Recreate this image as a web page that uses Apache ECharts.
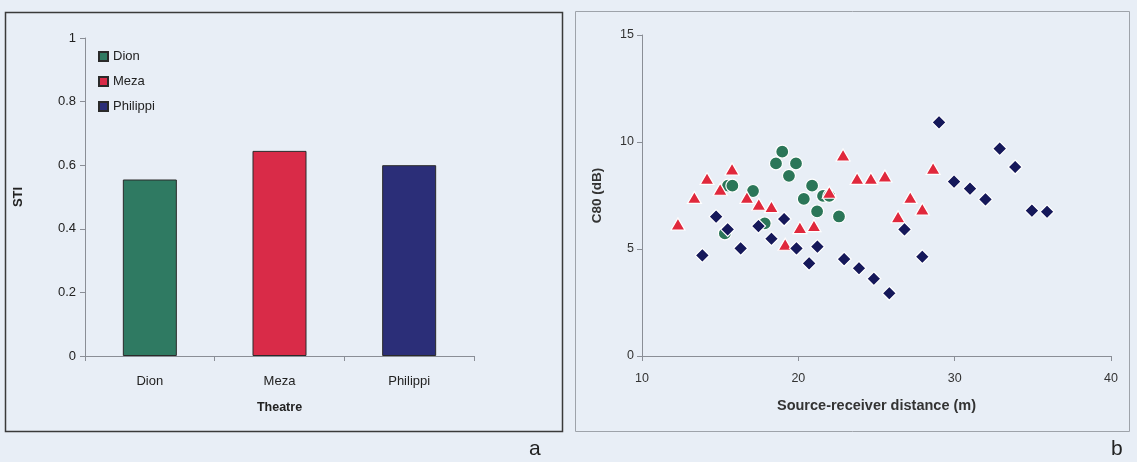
<!DOCTYPE html>
<html>
<head>
<meta charset="utf-8">
<script src="https://cdn.jsdelivr.net/npm/echarts@6/dist/echarts.min.js"></script>
<style>
html,body{margin:0;padding:0;background:#e8eef6;}
#c{width:1137px;height:462px;}
</style>
</head>
<body>
<div id="c"></div>
<script>
// ---- Data ----
const theatres = ['Dion', 'Meza', 'Philippi'];
const stiValues = [0.555, 0.645, 0.60];
const stiTicks = [0, 0.2, 0.4, 0.6, 0.8, 1];

// C80 (dB) vs source-receiver distance (m): [distance, C80]
const dionC80 = [
  [15.3, 5.73], [15.5, 7.96], [15.78, 7.96], [17.1, 7.71], [17.85, 6.2],
  [18.57, 9.0], [18.97, 9.55], [19.4, 8.42], [19.85, 9.0], [20.35, 7.34],
  [20.88, 7.96], [21.2, 6.76], [21.58, 7.48], [21.98, 7.48], [22.6, 6.52]
];
const mezaC80 = [
  [12.3, 6.17], [13.35, 7.41], [14.16, 8.3], [15.0, 7.79], [15.76, 8.74],
  [16.71, 7.41], [17.47, 7.09], [18.28, 6.98], [19.16, 5.22], [20.1, 6.0],
  [21.0, 6.09], [21.98, 7.65], [22.86, 9.39], [23.76, 8.3], [24.64, 8.3],
  [25.54, 8.41], [26.38, 6.51], [27.16, 7.41], [27.93, 6.87], [28.62, 8.77]
];
const philippiC80 = [
  [13.86, 4.7], [14.74, 6.51], [15.48, 5.92], [16.31, 5.03], [17.45, 6.07],
  [18.28, 5.48], [19.09, 6.4], [19.88, 5.03], [20.69, 4.33], [21.22, 5.11],
  [22.93, 4.53], [23.88, 4.1], [24.83, 3.61], [25.82, 2.93], [26.79, 5.92],
  [27.93, 4.64], [29.0, 10.92], [29.96, 8.15], [30.98, 7.82], [31.97, 7.32],
  [32.88, 9.69], [33.87, 8.83], [34.94, 6.79], [35.91, 6.74]
];
const distTicks = [10, 20, 30, 40];
const c80Ticks = [0, 5, 10, 15];

const colors = ['#2f7a62', '#d92b48', '#2b2e78'];
const scatterColors = ['#2b7658', '#e0283c', '#15185a'];
const FONT = 'Liberation Sans, Arial, sans-serif';

const chart = echarts.init(document.getElementById('c'), null, {renderer: 'canvas'});

const axisLine = {show: true, lineStyle: {color: '#8a8e96', width: 1}};
const axisTick = {show: true, length: 5, inside: false, lineStyle: {color: '#8a8e96'}};

const barSeries = theatres.map((t, i) => ({
  type: 'bar',
  name: t,
  xAxisIndex: 0, yAxisIndex: 0,
  data: theatres.map((c, j) => j === i ? stiValues[i] : '-'),
  barWidth: 54,
  barGap: '-100%',
  itemStyle: {color: colors[i], borderColor: '#2a2a2a', borderWidth: 1},
  silent: true
}));

const symbols = ['circle', 'triangle', 'diamond'];
const scatterData = [dionC80, mezaC80, philippiC80];
const scatterSeries = scatterData.map((d, i) => ({
  type: 'scatter',
  name: theatres[i] + ' C80',
  xAxisIndex: 1, yAxisIndex: 1,
  data: d,
  symbol: symbols[i],
  symbolSize: i === 2 ? [14, 14] : (i === 1 ? [14, 12] : 13),
  itemStyle: {color: scatterColors[i], borderColor: '#ffffff', borderWidth: 1.2, opacity: 1},
  silent: true
}));

chart.setOption({
  animation: false,
  backgroundColor: '#e8eef6',
  textStyle: {fontFamily: FONT},
  legend: {
    data: theatres,
    orient: 'vertical',
    left: 93, top: 45,
    itemWidth: 9, itemHeight: 9, itemGap: 12,
    icon: 'rect',
    textStyle: {fontFamily: FONT, fontSize: 13, color: '#222'},
    selectedMode: false
  },
  grid: [
    {left: 85, top: 38, width: 389, height: 318},
    {left: 642, top: 35, width: 469, height: 321}
  ],
  xAxis: [
    {
      type: 'category', gridIndex: 0, data: theatres,
      name: 'Theatre', nameLocation: 'middle', nameGap: 45,
      nameTextStyle: {fontFamily: FONT, fontSize: 12.5, fontWeight: 'bold', color: '#222'},
      axisLine: axisLine, axisTick: Object.assign({alignWithLabel: false}, axisTick),
      axisLabel: {margin: 19, fontSize: 13, color: '#222', fontFamily: FONT},
      splitLine: {show: false}
    },
    {
      type: 'value', gridIndex: 1, min: distTicks[0], max: distTicks[distTicks.length - 1], interval: 10,
      name: 'Source-receiver distance (m)', nameLocation: 'middle', nameGap: 42,
      nameTextStyle: {fontFamily: FONT, fontSize: 14.5, fontWeight: 'bold', color: '#333'},
      axisLine: axisLine, axisTick: axisTick,
      axisLabel: {margin: 16, fontSize: 12.5, color: '#333', fontFamily: FONT},
      splitLine: {show: false}
    }
  ],
  yAxis: [
    {
      type: 'value', gridIndex: 0, min: stiTicks[0], max: stiTicks[stiTicks.length - 1], interval: 0.2,
      name: 'STI', nameLocation: 'middle', nameGap: 60,
      nameTextStyle: {fontFamily: FONT, fontSize: 13, fontWeight: 'bold', color: '#222'},
      axisLine: axisLine, axisTick: axisTick,
      axisLabel: {margin: 9, fontSize: 13, color: '#222', fontFamily: FONT},
      splitLine: {show: false}
    },
    {
      type: 'value', gridIndex: 1, min: c80Ticks[0], max: c80Ticks[c80Ticks.length - 1], interval: 5,
      name: 'C80 (dB)', nameLocation: 'middle', nameGap: 38,
      nameTextStyle: {fontFamily: FONT, fontSize: 13.5, fontWeight: 'bold', color: '#333'},
      axisLine: axisLine, axisTick: axisTick,
      axisLabel: {margin: 8, fontSize: 12.5, color: '#333', fontFamily: FONT},
      splitLine: {show: false}
    }
  ],
  graphic: [
    {type: 'rect', shape: {x: 5.5, y: 12.5, width: 557, height: 419}, style: {fill: 'none', stroke: '#3a3a3a', lineWidth: 1.5}, silent: true},
    {type: 'rect', shape: {x: 575.5, y: 11.5, width: 554, height: 420}, style: {fill: 'none', stroke: '#9ea3aa', lineWidth: 1}, silent: true},
    {type: 'text', left: 529, top: 439, style: {text: 'a', fontFamily: FONT, fontSize: 21, fill: '#222'}, silent: true},
    {type: 'text', left: 1111, top: 439, style: {text: 'b', fontFamily: FONT, fontSize: 21, fill: '#222'}, silent: true}
  ],
  series: barSeries.concat(scatterSeries)
});
</script>
</body>
</html>
